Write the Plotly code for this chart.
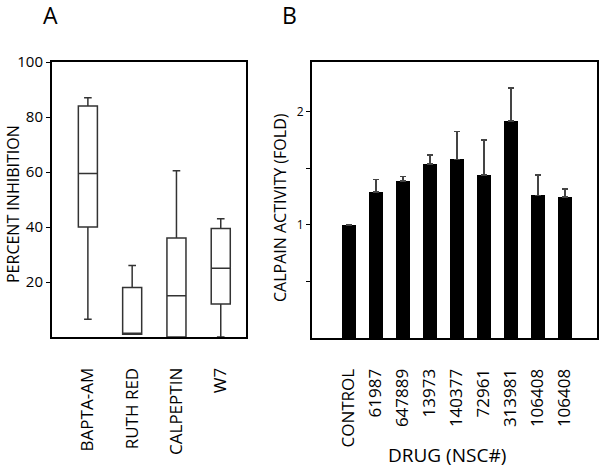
import plotly.graph_objects as go

# ---- Panel A data (box plot summary statistics, percent inhibition) ----
a_labels = ["BAPTA-AM", "RUTH RED", "CALPEPTIN", "W7"]
a_lower = [6.5, 1, 0, 0]
a_q1 = [40, 1, 0, 12]
a_median = [59.5, 1, 15, 25]
a_q3 = [84, 18, 36, 39.5]
a_upper = [87, 26, 60.5, 43]
a_yticks = [20, 40, 60, 80, 100]

# ---- Panel B data (calpain activity, fold) ----
b_labels = ["CONTROL", "61987", "647889", "13973", "140377", "72961", "313981", "106408", "106408"]
b_values = [1.0, 1.29, 1.39, 1.54, 1.58, 1.44, 1.92, 1.26, 1.245]
b_errors = [0.0, 0.11, 0.04, 0.076, 0.245, 0.31, 0.29, 0.18, 0.073]
b_yticks = [0.5, 1, 1.5, 2]
b_yticktext = ["", "1", "", "2"]

FONT = "Open Sans"
W, H = 600, 469

fig = go.Figure()

fig.add_trace(go.Box(
    x=a_labels, q1=a_q1, median=a_median, q3=a_q3,
    lowerfence=a_lower, upperfence=a_upper,
    xaxis="x", yaxis="y",
    fillcolor="white", line=dict(color="#333333", width=1.5),
    width=0.43, whiskerwidth=0.4, boxpoints=False, showlegend=False,
))

b_x = list(range(len(b_labels)))
fig.add_trace(go.Bar(
    x=b_x, y=b_values, xaxis="x2", yaxis="y2",
    marker=dict(color="black", line=dict(width=0)), width=0.52,
    error_y=dict(type="data", array=b_errors, arrayminus=[0] * len(b_errors),
                 symmetric=False, color="#444444", thickness=1.5, width=3),
    showlegend=False,
))

frame = dict(showline=True, mirror=True, linecolor="black", linewidth=2,
             showgrid=False, zeroline=False, automargin=False)

fig.update_layout(
    width=W, height=H,
    margin=dict(l=0, r=0, t=0, b=0),
    paper_bgcolor="white", plot_bgcolor="white",
    font=dict(family=FONT, color="black"),
    bargap=0,
    xaxis=dict(domain=[52 / W, 246 / W], range=[-0.81, 3.57], anchor="y",
               type="category", tickangle=-90, ticks="", ticklabelstandoff=22,
               tickfont=dict(size=17), **frame),
    yaxis=dict(domain=[1 - 337 / H, 1 - 62 / H], range=[0, 100], anchor="x",
               tickvals=a_yticks, ticks="outside", ticklen=4, tickcolor="black",
               tickfont=dict(size=15), **frame),
    xaxis2=dict(domain=[312 / W, 597 / W], range=[-1.37, 9.19], anchor="y2",
                tickvals=b_x, ticktext=b_labels, tickangle=-90, ticks="",
                ticklabelstandoff=22, tickfont=dict(size=17), **frame),
    yaxis2=dict(domain=[1 - 338 / H, 1 - 62 / H], range=[0, 2.44], anchor="x2",
                tickvals=b_yticks, ticktext=b_yticktext, ticks="outside", ticklen=4,
                tickcolor="black", tickfont=dict(size=12), **frame),
    annotations=[
        dict(text="A", x=50 / W, y=1 - 15 / H, xref="paper", yref="paper",
             showarrow=False, font=dict(size=23), xanchor="center", yanchor="middle"),
        dict(text="B", x=289 / W, y=1 - 15 / H, xref="paper", yref="paper",
             showarrow=False, font=dict(size=23), xanchor="center", yanchor="middle"),
        dict(text="PERCENT INHIBITION", x=13 / W, y=1 - 204 / H, xref="paper", yref="paper",
             showarrow=False, textangle=-90, font=dict(size=16),
             xanchor="center", yanchor="middle"),
        dict(text="CALPAIN ACTIVITY (FOLD)", x=280 / W, y=1 - 208 / H, xref="paper", yref="paper",
             showarrow=False, textangle=-90, font=dict(size=16),
             xanchor="center", yanchor="middle"),
        dict(text="DRUG (NSC#)", x=447 / W, y=1 - 455 / H, xref="paper", yref="paper",
             showarrow=False, font=dict(size=19), xanchor="center", yanchor="middle"),
    ],
)

fig.write_html("out.html", config={"displayModeBar": False},
               post_script="document.body.style.margin='0';")
